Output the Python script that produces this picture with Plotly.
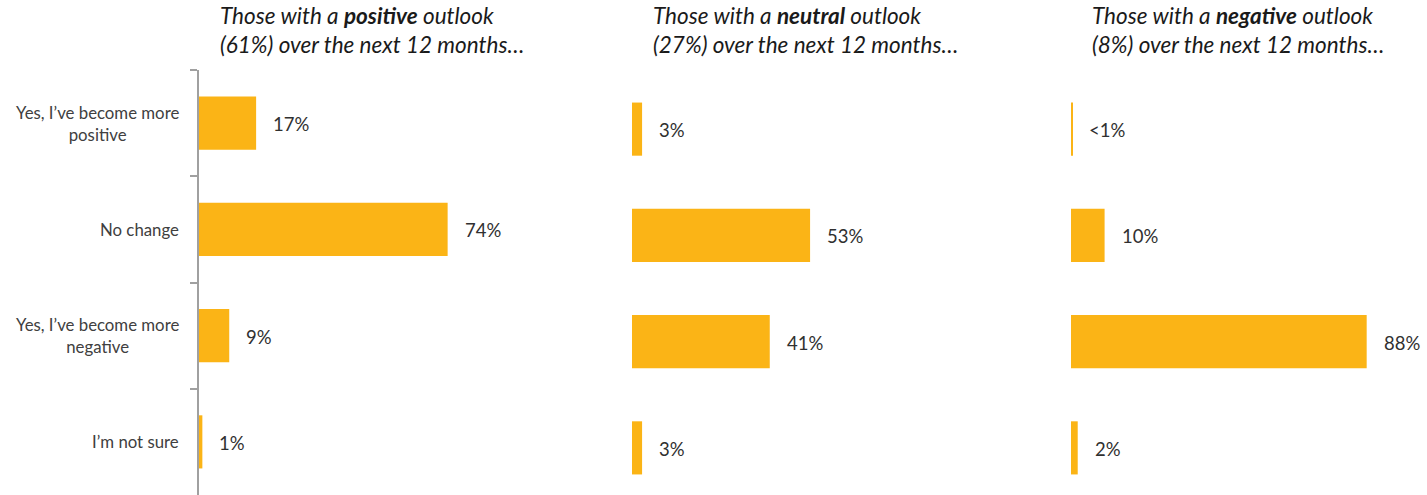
import plotly.graph_objects as go

# Responses by outlook group
categories = [
    "Yes, I’ve become more positive",
    "No change",
    "Yes, I’ve become more negative",
    "I’m not sure",
]
category_labels = [
    "Yes, I’ve become more<br>positive",
    "No change",
    "Yes, I’ve become more<br>negative",
    "I’m not sure",
]
positive_vals = [17, 74, 9, 1]
neutral_vals = [3, 53, 41, 3]
negative_vals = [0.3, 10, 88, 2]

positive_text = ["17%", "74%", "9%", "1%"]
neutral_text = ["3%", "53%", "41%", "3%"]
negative_text = ["<1%", "10%", "88%", "2%"]

group_titles = [
    ("positive", "61%"),
    ("neutral", "27%"),
    ("negative", "8%"),
]

BAR = "#FBB416"
TXT = "#303030"
W, H = 1427, 495

panels = [
    (positive_vals, positive_text),
    (neutral_vals, neutral_text),
    (negative_vals, negative_text),
]
# left edge of each panel's value axis in pixels
x_left = [199, 632, 1071]
px_per_pct = 3.36
span = 100 * px_per_pct

fig = go.Figure()
annotations = []

for i, (vals, texts) in enumerate(panels):
    n = i + 1
    xa = "x" if n == 1 else f"x{n}"
    ya = "y" if n == 1 else f"y{n}"
    fig.add_trace(go.Bar(
        x=vals, y=categories, orientation="h",
        marker=dict(color=BAR, line=dict(width=0)),
        xaxis=xa, yaxis=ya, hoverinfo="skip", showlegend=False,
    ))
    for v, t, c in zip(vals, texts, categories):
        annotations.append(dict(
            x=v, y=c, xref=xa, yref=ya, text=t, showarrow=False,
            xanchor="left", xshift=15, yshift=-1,
            font=dict(family="Lato", size=18.5, color=TXT),
        ))

    x0 = x_left[i] / W
    x1 = (x_left[i] + span) / W
    fig.layout[f"xaxis{'' if n == 1 else n}"] = dict(
        domain=[x0, x1], range=[0, 100], visible=False,
        anchor=ya, fixedrange=True,
    )
    if n == 1:
        fig.layout["yaxis"] = dict(
            domain=[0, (H - 70) / H], range=[3.5, -0.5],
            categoryorder="array", categoryarray=categories,
            showline=True, linecolor="#A0A0A0", linewidth=2,
            ticks="outside", tickson="boundaries", ticklen=7,
            tickcolor="#A0A0A0", tickwidth=2,
            showticklabels=False, showgrid=False, zeroline=False,
            anchor="x",
        )
    else:
        fig.layout[f"yaxis{n}"] = dict(
            domain=[0, (H - 76) / H], range=[3.5 - 6 / 106.25, -0.5],
            categoryorder="array", categoryarray=categories,
            visible=False, showgrid=False, zeroline=False,
            anchor=xa,
        )

    word, pct = group_titles[i]
    annotations.append(dict(
        x=(x_left[i] + 19) / W, y=1.0, xref="paper", yref="paper",
        xanchor="left", yanchor="top", align="left", showarrow=False,
        yshift=0,
        text=(f"<i>Those with a <b>{word}</b> outlook<br>"
              f"({pct}) over the next 12 months…</i>"),
        font=dict(family="Lato", size=22.5, color="#1A1A1A"),
    ))

# category labels, centred multi-line text right of the axis
for c, lab in zip(categories, category_labels):
    annotations.append(dict(
        x=181 / W, y=c, xref="paper", yref="y", text=lab,
        showarrow=False, xanchor="right", align="center",
        font=dict(family="Lato", size=16.8, color="#404040"),
    ))

fig.update_layout(
    width=W, height=H, margin=dict(l=0, r=0, t=0, b=0),
    paper_bgcolor="white", plot_bgcolor="white",
    bargap=0.5, annotations=annotations,
)

fig.write_html("out.html", config={"displayModeBar": False})
